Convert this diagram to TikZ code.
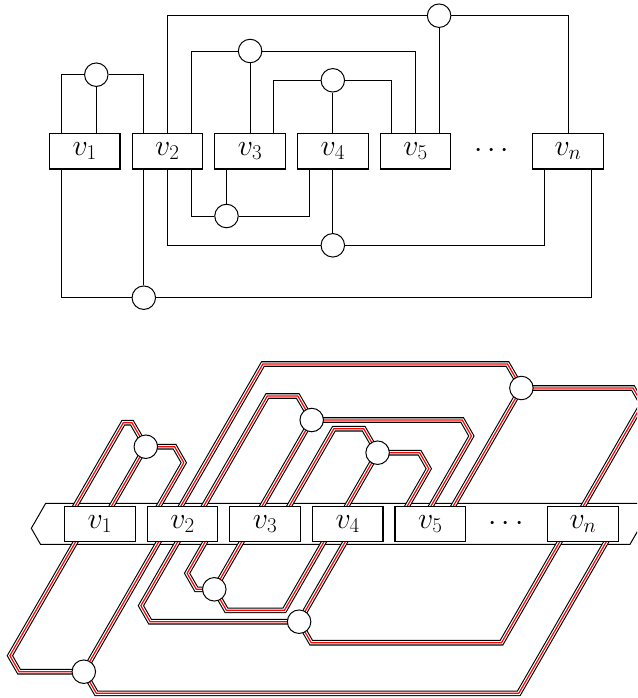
\RequirePackage{fix-cm}
\documentclass[tikz,border=0pt]{standalone}
\usepackage{tikz}
\usetikzlibrary{calc, backgrounds}
\definecolor{cRed}{RGB}{255,0,0}

\begin{document}
\begin{tikzpicture}[x=1pt, y=-1pt, font=\fontsize{30}{36}\selectfont,
	vbox/.style={draw=black, line width=1.2pt, fill=white, minimum width=70.6pt, minimum height=35.7pt, inner sep=0pt},
	hub/.style={circle, draw=black, line width=1pt, fill=white, minimum size=23.5pt, inner sep=0pt},
	conn/.style={line width=0.9pt},
	wire/.style={draw=cRed, line width=1.2pt, preaction={draw=black, line width=5.6pt}, preaction={draw=white, line width=3.4pt}},
	band/.style={draw=black, line width=1pt, fill=white}]
	\useasboundingbox (0,0) rectangle (637,698);
	\foreach \i/\x in {1/84.7, 2/167.4, 3/250.1, 4/332.8, 5/415.5} \node[vbox] (t\i) at (\x,151.2) {$v_{\i}$};
	\node[vbox] (tn) at (568,151.2) {$v_n$}; \node (tdots) at (491.6,151.2) {$\cdots$};
	\node[hub] (ta) at (96.3,74.7) {}; \node[hub] (tb) at (439.1,15.7) {}; \node[hub] (tc) at (250.1,51) {};
	\node[hub] (td) at (332.8,80.3) {}; \node[hub] (te) at (226.5,216) {}; \node[hub] (tf) at (332.8,245.3) {};
	\node[hub] (tg) at (143.8,297.7) {};
	\draw[conn] (ta) -| ($(t1.north)+(-23.6,0)$); \draw[conn] (ta) -- (ta |- t1.north); \draw[conn] (ta) -| ($(t2.north)+(-23.6,0)$);
	\draw[conn] (tb) -| (t2.north); \draw[conn] (tb) -- (tb |- t5.north); \draw[conn] (tb) -| (tn.north);
	\draw[conn] (tc) -| ($(t2.north)+(23.6,0)$); \draw[conn] (tc) -- (tc |- t3.north); \draw[conn] (tc) -| (t5.north);
	\draw[conn] (td) -| ($(t3.north)+(23.6,0)$); \draw[conn] (td) -- (td |- t4.north); \draw[conn] (td) -| ($(t5.north)+(-23.6,0)$);
	\draw[conn] (te) -| ($(t2.south)+(23.6,0)$); \draw[conn] (te) -- (te |- t3.south); \draw[conn] (te) -| ($(t4.south)+(-23.6,0)$);
	\draw[conn] (tf) -| (t2.south); \draw[conn] (tf) -- (tf |- t4.south); \draw[conn] (tf) -| ($(tn.south)+(-23.6,0)$);
	\draw[conn] (tg) -| ($(t1.south)+(-23.6,0)$); \draw[conn] (tg) -- (tg |- t2.south); \draw[conn] (tg) -| ($(tn.south)+(23.6,0)$);

	\foreach \i/\x in {1/99.9, 2/182.5, 3/265.1, 4/347.7, 5/430.3} \node[vbox] (b\i) at (\x,524) {$v_{\i}$};
	\node[vbox] (bn) at (583,524) {$v_n$}; \node (bdots) at (506,524) {$\cdots$};
	\node[hub] (ba) at (145.8,446.7) {}; \node[hub] (bb) at (521.4,388) {}; \node[hub] (bc) at (311.7,420) {};
	\node[hub] (bd) at (377.6,452.7) {}; \node[hub] (be) at (214.3,589.3) {}; \node[hub] (bf) at (299.1,621.7) {};
	\node[hub] (bg) at (83.8,671.7) {};
	\begin{scope}[on background layer]
		\clip (0,0) rectangle (637,698);
		\draw[band] (45.7,503.3) -- (31.3,528.3) -- (40.5,544.3) -- (630,544.3) -- (653.7,503.3) -- cycle;
		\draw[wire] (ba.center) -- (131.9,422.7) -- (123.3,422.7) -- ($(b1)+(-27,-14)$);
		\draw[wire] (ba.center) -- ($(b1)+(9.4,-14)$);
		\draw[wire] (ba.center) -- (174.6,446.7) -- (183.8,462.7) -- ($(b2)+(-26,-14)$);
		\draw[wire] (bb.center) -- (507.5,364) -- (262.9,364) -- ($(b2)+(-3.9,-14)$);
		\draw[wire] (bb.center) -- ($(b5)+(20.7,-14)$);
		\draw[wire] (bb.center) -- (633,388) -- (642.2,404) -- ($(bn)+(-2,-14)$);
		\draw[wire] (bc.center) -- (297.8,396) -- (267.3,396) -- ($(b2)+(19,-14)$);
		\draw[wire] (bc.center) -- ($(b3)+(-5.3,-14)$);
		\draw[wire] (bc.center) -- (462.2,420) -- (471.4,436) -- ($(b5)+(-1.6,-14)$);
		\draw[wire] (bd.center) -- (363.7,428.7) -- (333.9,428.7) -- ($(b3)+(21.9,-14)$);
		\draw[wire] (bd.center) -- ($(b4)+(-3.1,-14)$);
		\draw[wire] (bd.center) -- (419.6,452.7) -- (428.8,468.7) -- ($(b5)+(-25.3,-14)$);
		\draw[wire] (be.center) -- ($(b3)+(-20.6,13)$);
		\draw[wire] (be.center) -- (196.3,589.3) -- (187.1,573.3) -- ($(b2)+(25.5,13)$);
		\draw[wire] (be.center) -- (226.4,610.3) -- (284.4,610.3) -- ($(b4)+(-21,13)$);
		\draw[wire] (bf.center) -- ($(b4)+(0.3,13)$);
		\draw[wire] (bf.center) -- (150.1,621.7) -- (140.9,605.7) -- ($(b2)+(-2,13)$);
		\draw[wire] (bf.center) -- (311.2,642.7) -- (501.5,642.7) -- ($(bn)+(-20.5,13)$);
		\draw[wire] (bg.center) -- ($(b2)+(-21,13)$);
		\draw[wire] (bg.center) -- (19.1,671.7) -- (9.9,655.7) -- ($(b1)+(-21.5,13)$);
		\draw[wire] (bg.center) -- (96.3,693.3) -- (518.8,693.3) -- ($(bn)+(26,13)$);
	\end{scope}
\end{tikzpicture}
\end{document}
